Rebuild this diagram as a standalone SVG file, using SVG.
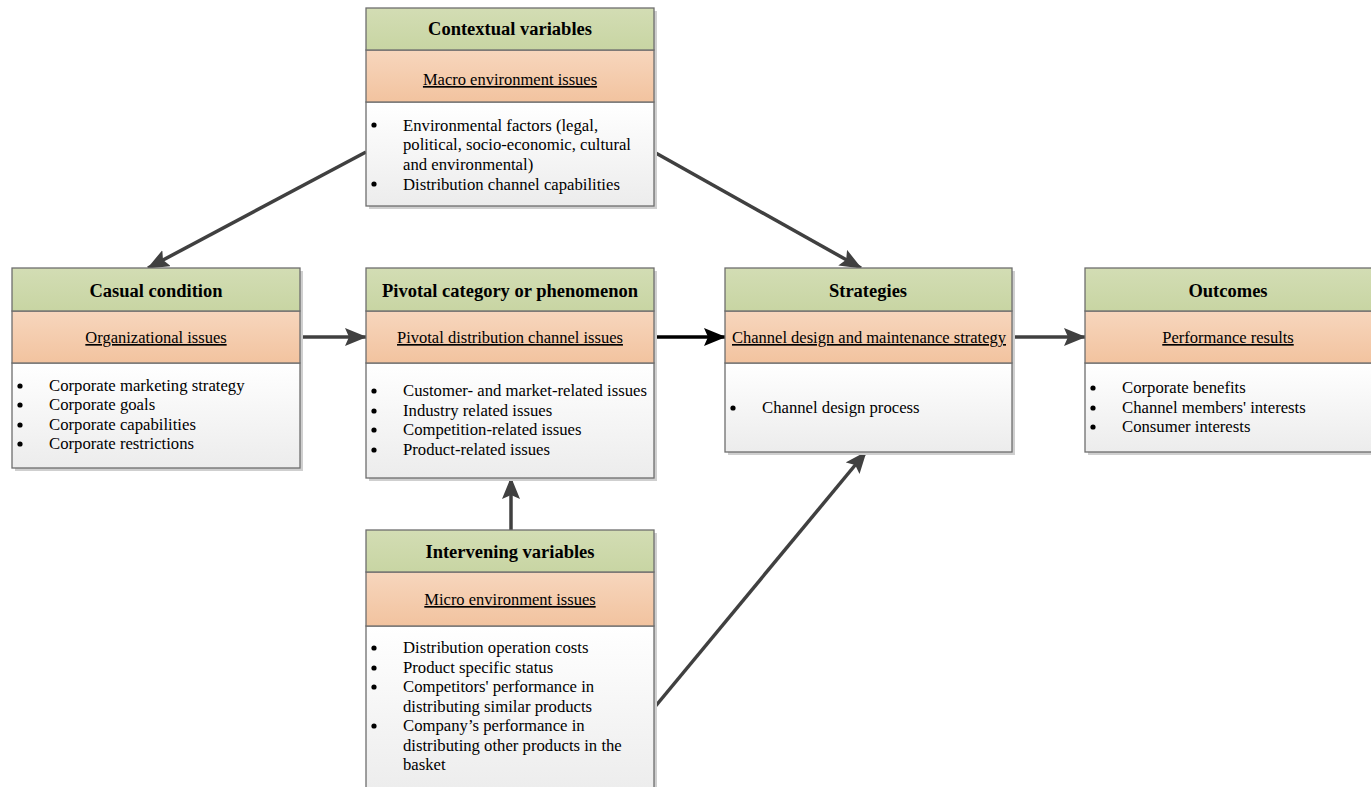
<svg xmlns="http://www.w3.org/2000/svg" width="1371" height="787" viewBox="0 0 1371 787">
<defs>
<linearGradient id="gG" x1="0" y1="0" x2="0" y2="1"><stop offset="0" stop-color="#d3ddb4"/><stop offset="1" stop-color="#c8d5a3"/></linearGradient>
<linearGradient id="gO" x1="0" y1="0" x2="0" y2="1"><stop offset="0" stop-color="#f7d6bd"/><stop offset="1" stop-color="#f2c39f"/></linearGradient>
<linearGradient id="gW" x1="0" y1="0" x2="0" y2="1"><stop offset="0" stop-color="#ffffff"/><stop offset="1" stop-color="#ececec"/></linearGradient>
<marker id="ah" markerUnits="userSpaceOnUse" markerWidth="24" markerHeight="20" refX="21" refY="9" orient="auto"><path d="M0,0 L22,9 L0,18 L4,9 Z" fill="#404040"/></marker>
<marker id="ahb" markerUnits="userSpaceOnUse" markerWidth="24" markerHeight="20" refX="21" refY="9" orient="auto"><path d="M0,0 L22,9 L0,18 L4,9 Z" fill="#000"/></marker>
</defs>
<style>
.sh{fill:#cfcfcf}
.g{fill:url(#gG);stroke:#6e6e6e;stroke-width:1.3}
.o{fill:url(#gO);stroke:#6e6e6e;stroke-width:1.3}
.w{fill:url(#gW);stroke:#6e6e6e;stroke-width:1.3}
text{font-family:"Liberation Serif","Times New Roman",serif;fill:#000}
.t{font-size:18.5px;font-weight:bold;text-anchor:middle}
.u{font-size:16.5px;text-decoration:underline;text-anchor:middle}
.b{font-size:16.7px}
.d{fill:#000}
.c{fill:none;stroke:#404040;stroke-width:3.5;marker-end:url(#ah)}
.cb{fill:none;stroke:#000;stroke-width:3.5;marker-end:url(#ahb)}
</style>

<g id="connectors">
<line class="c" x1="366" y1="152" x2="148" y2="268"/>
<line class="c" x1="654" y1="152" x2="861" y2="268"/>
<line class="c" x1="300" y1="337" x2="366" y2="337"/>
<line class="cb" x1="654" y1="337" x2="725" y2="337"/>
<line class="c" x1="1012" y1="337" x2="1085" y2="337"/>
<line class="c" x1="511" y1="530" x2="511" y2="478"/>
<line class="c" x1="654" y1="708" x2="866" y2="452"/>
</g>

<g id="contextual">
<rect class="sh" x="369" y="11" width="288" height="198"/>
<rect class="w" x="366" y="102" width="288" height="104"/>
<rect class="o" x="366" y="50" width="288" height="52"/>
<rect class="g" x="366" y="8" width="288" height="42"/>
<text class="t" x="510" y="35">Contextual variables</text>
<text class="u" x="510" y="85">Macro environment issues</text>
<circle class="d" cx="374" cy="125" r="2.6"/>
<text class="b" x="403" y="131">Environmental factors (legal,</text>
<text class="b" x="403" y="150">political, socio-economic, cultural</text>
<text class="b" x="403" y="170">and environmental)</text>
<circle class="d" cx="374" cy="184" r="2.6"/>
<text class="b" x="403" y="190">Distribution channel capabilities</text>
</g>

<g id="casual">
<rect class="sh" x="15" y="271" width="288" height="200"/>
<rect class="w" x="12" y="363" width="288" height="105"/>
<rect class="o" x="12" y="311" width="288" height="52"/>
<rect class="g" x="12" y="268" width="288" height="43"/>
<text class="t" x="156" y="297">Casual condition</text>
<text class="u" x="156" y="343">Organizational issues</text>
<circle class="d" cx="20" cy="386" r="2.6"/><text class="b" x="49" y="391">Corporate marketing strategy</text>
<circle class="d" cx="20" cy="405" r="2.6"/><text class="b" x="49" y="410">Corporate goals</text>
<circle class="d" cx="20" cy="425" r="2.6"/><text class="b" x="49" y="430">Corporate capabilities</text>
<circle class="d" cx="20" cy="444" r="2.6"/><text class="b" x="49" y="449">Corporate restrictions</text>
</g>

<g id="pivotal">
<rect class="sh" x="369" y="271" width="288" height="210"/>
<rect class="w" x="366" y="363" width="288" height="115"/>
<rect class="o" x="366" y="311" width="288" height="52"/>
<rect class="g" x="366" y="268" width="288" height="43"/>
<text class="t" x="510" y="297">Pivotal category or phenomenon</text>
<text class="u" x="510" y="343">Pivotal distribution channel issues</text>
<circle class="d" cx="374" cy="391" r="2.6"/><text class="b" x="403" y="396">Customer- and market-related issues</text>
<circle class="d" cx="374" cy="411" r="2.6"/><text class="b" x="403" y="416">Industry related issues</text>
<circle class="d" cx="374" cy="430" r="2.6"/><text class="b" x="403" y="435">Competition-related issues</text>
<circle class="d" cx="374" cy="450" r="2.6"/><text class="b" x="403" y="455">Product-related issues</text>
</g>

<g id="strategies">
<rect class="sh" x="728" y="271" width="287" height="184"/>
<rect class="w" x="725" y="363" width="287" height="89"/>
<rect class="o" x="725" y="311" width="287" height="52"/>
<rect class="g" x="725" y="268" width="287" height="43"/>
<text class="t" x="868" y="297">Strategies</text>
<text class="u" x="869" y="343">Channel design and maintenance strategy</text>
<circle class="d" cx="733" cy="408" r="2.6"/><text class="b" x="762" y="413">Channel design process</text>
</g>

<g id="outcomes">
<rect class="sh" x="1088" y="271" width="288" height="184"/>
<rect class="w" x="1085" y="363" width="288" height="89"/>
<rect class="o" x="1085" y="311" width="288" height="52"/>
<rect class="g" x="1085" y="268" width="288" height="43"/>
<text class="t" x="1228" y="297">Outcomes</text>
<text class="u" x="1228" y="343">Performance results</text>
<circle class="d" cx="1093" cy="388" r="2.6"/><text class="b" x="1122" y="393">Corporate benefits</text>
<circle class="d" cx="1093" cy="408" r="2.6"/><text class="b" x="1122" y="413">Channel members' interests</text>
<circle class="d" cx="1093" cy="427" r="2.6"/><text class="b" x="1122" y="432">Consumer interests</text>
</g>

<g id="intervening">
<rect class="sh" x="369" y="533" width="288" height="260"/>
<rect class="w" x="366" y="626" width="288" height="170"/>
<rect class="o" x="366" y="572" width="288" height="54"/>
<rect class="g" x="366" y="530" width="288" height="42"/>
<text class="t" x="510" y="558">Intervening variables</text>
<text class="u" x="510" y="605">Micro environment issues</text>
<circle class="d" cx="374" cy="648" r="2.6"/><text class="b" x="403" y="653">Distribution operation costs</text>
<circle class="d" cx="374" cy="668" r="2.6"/><text class="b" x="403" y="673">Product specific status</text>
<circle class="d" cx="374" cy="687" r="2.6"/><text class="b" x="403" y="692">Competitors' performance in</text>
<text class="b" x="403" y="712">distributing similar products</text>
<circle class="d" cx="374" cy="726" r="2.6"/><text class="b" x="403" y="731">Company’s performance in</text>
<text class="b" x="403" y="751">distributing other products in the</text>
<text class="b" x="403" y="770">basket</text>
</g>
</svg>
